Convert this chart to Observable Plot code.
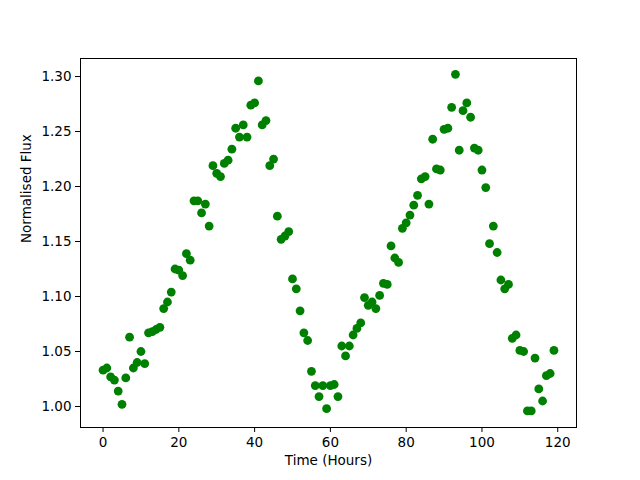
<!DOCTYPE html>
<html><head><meta charset="utf-8">
<script src="https://cdn.jsdelivr.net/npm/d3@7"></script>
<script src="https://cdn.jsdelivr.net/npm/@observablehq/plot@0.6"></script>
<style>body{margin:0;background:#fff;} svg{display:block;}</style>
</head><body><div id="chart"></div>
<script>
const hours = d3.range(0, 120);
const flux = [
1.033,1.035,1.027,1.024,1.014,1.002,1.026,1.063,1.035,1.040,
1.050,1.039,1.067,1.068,1.070,1.072,1.089,1.095,1.104,1.125,
1.124,1.119,1.139,1.133,1.187,1.187,1.176,1.184,1.164,1.219,
1.212,1.209,1.221,1.224,1.234,1.253,1.245,1.256,1.245,1.274,
1.276,1.296,1.256,1.260,1.219,1.225,1.173,1.152,1.155,1.159,
1.116,1.107,1.087,1.067,1.060,1.032,1.019,1.009,1.019,0.998,
1.019,1.020,1.009,1.055,1.046,1.055,1.065,1.071,1.076,1.099,
1.092,1.095,1.089,1.101,1.112,1.111,1.146,1.135,1.131,1.162,
1.167,1.174,1.183,1.192,1.207,1.209,1.184,1.243,1.216,1.215,
1.252,1.253,1.272,1.302,1.233,1.269,1.276,1.263,1.235,1.233,
1.215,1.199,1.148,1.164,1.140,1.115,1.107,1.111,1.062,1.065,
1.051,1.050,0.996,0.996,1.044,1.016,1.005,1.028,1.030,1.051];
const xTicks = [0, 20, 40, 60, 80, 100, 120];
const yTicks = [1.00, 1.05, 1.10, 1.15, 1.20, 1.25, 1.30];
const xLabel = "Time (Hours)";
const yLabel = "Normalised Flux";
const data = hours.map((h, i) => ({h, f: flux[i]}));

const chart = Plot.plot({
  width: 640, height: 480,
  marginLeft: 80, marginRight: 64, marginTop: 58, marginBottom: 53,
  style: {fontFamily: "DejaVu Sans", fontSize: "13.5px", color: "black", background: "white"},
  x: {domain: [-5.95, 124.95]},
  y: {domain: [0.9809, 1.3164]},
  marks: [
    Plot.axisX({ticks: xTicks, tickSize: 5, tickPadding: 5, label: null}),
    Plot.axisY({ticks: yTicks, tickSize: 5, tickPadding: 4, tickFormat: ".2f", label: null}),
    Plot.dot(data, {x: "h", y: "f", r: 4.4, fill: "#008000", stroke: "none"}),
    Plot.frame({stroke: "black", strokeWidth: 1}),
    Plot.text([xLabel], {frameAnchor: "bottom", text: d => d, dy: 37, fontSize: 13.5}),
    Plot.text([yLabel], {frameAnchor: "left", text: d => d, dx: -54, rotate: -90, fontSize: 13.5})
  ]
});
document.getElementById("chart").appendChild(chart);
</script></body></html>
